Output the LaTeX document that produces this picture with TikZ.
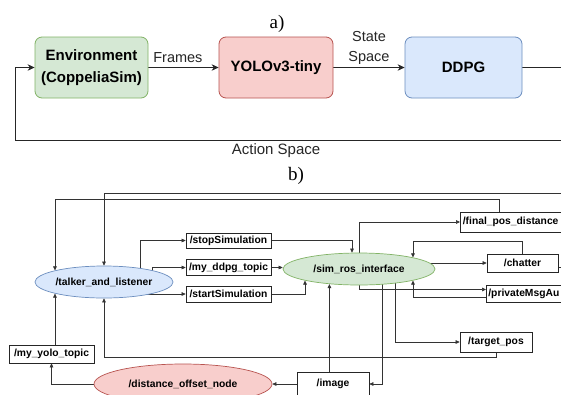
\documentclass[tikz,border=0pt]{standalone}
\usepackage{fontspec}
\setmainfont{Liberation Sans}
\newfontfamily\labelserif{Liberation Serif}
\usetikzlibrary{arrows.meta,calc,shapes.geometric}
\definecolor{gfill}{HTML}{D5E8D4}
\definecolor{gline}{HTML}{82B366}
\definecolor{rfill}{HTML}{F8CECC}
\definecolor{rline}{HTML}{B85450}
\definecolor{bfill}{HTML}{DAE8FC}
\definecolor{bline}{HTML}{6C8EBF}
\definecolor{wire}{HTML}{333333}
\pgfdeclarelayer{paper}
\pgfdeclarelayer{wires}
\pgfsetlayers{paper,wires,main}
\begin{document}
\begin{tikzpicture}[x=1pt,y=-1pt,
  abox/.style={draw, rounded corners=7pt, line width=0.8pt, inner sep=0pt,
    minimum height=61pt, align=center, font=\fontsize{15}{22}\selectfont\bfseries},
  alabel/.style={font=\fontsize{14.5}{20}\selectfont, text=black!85},
  aarrow/.style={draw=black!85, line width=0.8pt, -{Stealth[length=7pt,width=6.5pt]}},
  topic/.style={draw=black!85, fill=white, line width=0.7pt, inner sep=0pt,
    font=\fontsize{10.3}{12}\selectfont\bfseries},
  rosnode/.style={ellipse, line width=0.7pt, inner sep=0pt,
    font=\fontsize{10.3}{12}\selectfont\bfseries},
  barrow/.style={draw=wire, line width=0.6pt, -{Triangle[length=4pt,width=3.6pt]}},
  partlabel/.style={font=\labelserif\fontsize{19}{22}\selectfont}
]
\useasboundingbox (0,0) rectangle (561,394);
\begin{pgfonlayer}{paper}
\fill[white] (0,0) rectangle (561,394);
\end{pgfonlayer}

\begin{scope}
\clip (0,0) rectangle (561,394);
% ---------- a) ----------
\node[partlabel] (la) at (277,23.5) {a)};
\node[abox, fill=gfill, draw=gline, minimum width=113pt] (env) at (91.5,67.5) {Environment\\(CoppeliaSim)};
\node[abox, fill=rfill, draw=rline, minimum width=114pt] (yolo) at (276,67.5) {YOLOv3-tiny};
\node[abox, fill=bfill, draw=bline, minimum width=117pt] (ddpg) at (463.5,67.5) {DDPG};
\coordinate (loopR) at (590,140);
\coordinate (loopL) at (15,140);

% ---------- b) ----------
\node[partlabel] (lb) at (296,176) {b)};
\node[rosnode, fill=bfill, draw=bline, minimum width=138pt, minimum height=32pt] (talker) at (104,282) {/talker\_and\_listener};
\node[rosnode, fill=gfill, draw=gline, minimum width=152pt, minimum height=32pt] (sim) at (359,269) {/sim\_ros\_interface};
\node[rosnode, fill=rfill, draw=rline, minimum width=178pt, minimum height=40pt] (dist) at (183,384) {/distance\_offset\_node};

\node[topic, minimum width=85pt, minimum height=15pt] (stop) at (228.5,240.5) {/stopSimulation};
\node[topic, minimum width=85pt, minimum height=16pt] (ddpgt) at (228.5,267.5) {/my\_ddpg\_topic};
\node[topic, minimum width=85pt, minimum height=16pt] (start) at (228.5,294) {/startSimulation};
\node[topic, anchor=west, minimum height=20pt, inner xsep=2.5pt, text width=130pt, align=left] (final) at (460,222) {/final\_pos\_distance};
\node[topic, minimum width=71pt, minimum height=18pt] (chatter) at (522.5,263) {/chatter};
\node[topic, anchor=west, minimum height=17pt, inner xsep=2pt, text width=130pt, align=left] (private) at (486,293.5) {/privateMsgAu};
\node[topic, minimum width=72pt, minimum height=20pt] (target) at (496,342) {/target\_pos};
\node[topic, minimum width=72pt, minimum height=24pt] (image) at (333,384) {/image};
\node[topic, minimum width=85pt, minimum height=18pt] (yolot) at (51.5,354) {/my\_yolo\_topic};
\coordinate (topR) at (575,193);
\end{scope}

\begin{pgfonlayer}{wires}
\clip (0,0) rectangle (561,394);
% a)
\draw[aarrow] (env.east) -- node[alabel, above=1.5pt, pos=0.42] (lfr) {Frames} (yolo.west);
\draw[aarrow] (yolo.east) -- node[alabel, above=-1pt, align=center] (lss) {State\\Space} (ddpg.west);
\draw[aarrow] (ddpg.east) -| (loopR) -- node[alabel, font=\fontsize{15}{20}\selectfont, below=0pt, pos=0.546] (las) {Action Space} (loopL) |- (env.west);
% b)
\draw[barrow] ($(talker.center)+(36,0)$) |- (stop.west);
\draw[barrow] ($(talker.center)+(48,0)$) |- (ddpgt.west);
\draw[barrow] ($(talker.center)+(43,0)$) |- (start.west);
\draw[barrow] (ddpgt.east) -- (ddpgt.east -| sim.west);
\draw[barrow] (stop.east) -| ([xshift=-7pt]sim.north);
\draw[barrow] (start.east) -| (sim.south west);
\draw[barrow] (sim.north) |- (final.west);
\draw[barrow] ($(final.north west)+(39.5,0)$) -- ++(0,-12) -| (talker.north west);
\draw[barrow] ([yshift=-4pt]chatter.east) -| (topR) -| (talker.north);
\draw[barrow] (sim.center |- chatter.west) -- (chatter.west);
\draw[barrow] (chatter.north) -- ++(0,-12) -| (sim.north east);
\draw[barrow] (sim.south) |- ($(private.west)+(0,-4)$);
\draw[barrow] ($(private.west)+(0,4)$) -| (sim.south east);
\draw[barrow] ($(sim.center)+(36,0)$) |- (target.west);
\draw[barrow] (target.south) -- ++(0,5) -| (talker.south);
\draw[barrow] ($(sim.center)+(23,0)$) |- (image.east);
\draw[barrow] (sim.207 |- image.north) -- (sim.207);
\draw[barrow] (image.west) -- (dist.east);
\draw[barrow] (dist.west) -| (yolot.south);
\draw[barrow] (talker.south west |- yolot.north) -- (talker.south west);
\end{pgfonlayer}
\end{tikzpicture}
\end{document}
